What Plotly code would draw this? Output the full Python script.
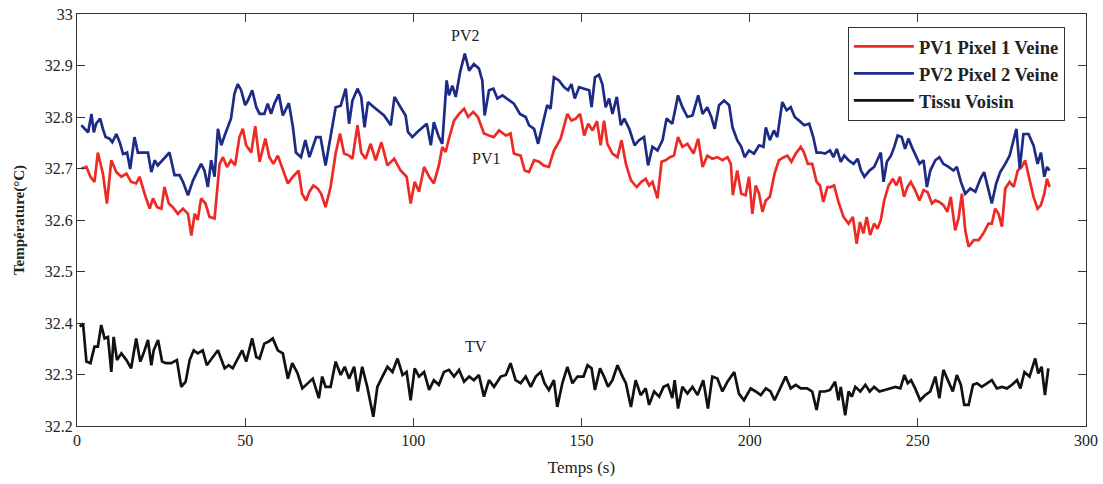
import plotly.graph_objects as go

# ---------------- data ----------------
pv2_t = [1.3, 2.3, 3.3, 4.3, 5.0, 5.7, 6.9, 7.7, 8.5, 9.7, 10.5, 11.7, 12.7, 13.7, 14.9, 15.8, 17.1, 18.1, 19.6, 21.1,
         22.1, 23.1, 24.0, 25.5, 27.5, 29.0, 30.5, 31.5, 33.0, 34.5, 35.9, 36.9, 37.9, 38.9, 39.9, 40.9, 41.9, 42.9,
         43.9, 44.9, 45.8, 46.8, 47.8, 48.8, 50.0, 50.8, 52.1, 53.3, 54.3, 55.7, 56.7, 57.7, 58.7, 60.0, 61.2, 63.0,
         64.2, 65.1, 66.6, 67.9, 69.1, 71.1, 72.4, 73.9, 75.4, 76.9, 78.4, 79.9, 80.9, 81.9, 83.4, 84.5, 85.5, 86.5,
         88.3, 90.1, 91.3, 93.3, 94.4, 96.2, 97.7, 98.4, 99.7, 101.2, 102.7, 104.0, 105.2, 106.1, 107.6, 108.6,
         109.9, 110.6, 111.6, 112.6, 113.9, 115.3, 116.6, 118.0, 119.5, 120.5, 121.2, 122.5, 123.8, 125.0, 126.5,
         127.9, 129.9, 131.7, 133.4, 134.4, 135.9, 137.1, 138.4, 139.8, 140.8, 141.8, 143.3, 144.8, 146.0, 147.0,
         148.0, 149.3, 150.8, 152.3, 153.0, 154.0, 155.2, 156.2, 157.2, 158.2, 159.2, 160.5, 161.7, 162.7, 164.2,
         165.8, 167.1, 168.6, 169.8, 171.1, 172.6, 174.1, 175.3, 177.0, 178.7, 180.0, 181.5, 183.0, 184.7, 186.0,
         187.4, 188.6, 189.6, 190.9, 192.4, 193.9, 194.9, 196.3, 197.5, 198.5, 199.8, 201.3, 202.8, 204.1, 204.8,
         206.0, 207.2, 208.2, 209.7, 211.0, 212.2, 213.4, 214.7, 216.2, 217.7, 218.9, 219.9, 221.1, 222.4, 223.9,
         224.9, 225.9, 227.1, 228.1, 229.4, 230.9, 232.1, 233.1, 234.1, 235.6, 237.0, 238.0, 239.0, 239.8, 240.8,
         242.0, 243.0, 244.0, 245.2, 246.2, 247.2, 248.2, 249.2, 250.5, 251.7, 252.7, 253.7, 255.2, 256.4, 257.6,
         259.1, 260.6, 261.6, 262.8, 264.1, 265.6, 267.1, 268.6, 269.7, 270.7, 272.0, 273.3, 274.5, 276.0, 277.3,
         278.3, 279.3, 280.3, 281.4, 282.9, 284.4, 285.6, 286.6, 287.6, 288.4, 289.2]
pv2_v = [32.784, 32.777, 32.770, 32.806, 32.770, 32.787, 32.797, 32.777, 32.761, 32.758, 32.751, 32.767, 32.751,
         32.728, 32.731, 32.699, 32.761, 32.731, 32.731, 32.731, 32.693, 32.716, 32.706, 32.716, 32.731, 32.687,
         32.687, 32.674, 32.648, 32.677, 32.696, 32.709, 32.696, 32.664, 32.716, 32.684, 32.777, 32.745, 32.764,
         32.780, 32.797, 32.845, 32.864, 32.852, 32.823, 32.832, 32.852, 32.819, 32.806, 32.806, 32.826, 32.806,
         32.826, 32.844, 32.803, 32.827, 32.780, 32.731, 32.722, 32.755, 32.722, 32.761, 32.761, 32.706, 32.761,
         32.819, 32.822, 32.855, 32.787, 32.832, 32.855, 32.839, 32.780, 32.829, 32.819, 32.810, 32.803, 32.784,
         32.839, 32.819, 32.803, 32.771, 32.761, 32.771, 32.780, 32.787, 32.745, 32.790, 32.761, 32.748, 32.871,
         32.842, 32.861, 32.839, 32.887, 32.923, 32.890, 32.903, 32.894, 32.871, 32.803, 32.852, 32.855, 32.836,
         32.842, 32.836, 32.826, 32.806, 32.800, 32.784, 32.777, 32.748, 32.784, 32.823, 32.816, 32.877, 32.871,
         32.858, 32.852, 32.864, 32.836, 32.858, 32.855, 32.852, 32.819, 32.877, 32.882, 32.864, 32.819, 32.836,
         32.806, 32.839, 32.784, 32.797, 32.777, 32.745, 32.755, 32.761, 32.706, 32.742, 32.735, 32.755, 32.797,
         32.787, 32.842, 32.819, 32.800, 32.803, 32.842, 32.806, 32.819, 32.800, 32.777, 32.823, 32.832, 32.823,
         32.780, 32.755, 32.742, 32.722, 32.735, 32.729, 32.745, 32.742, 32.780, 32.755, 32.774, 32.761, 32.829,
         32.813, 32.819, 32.800, 32.793, 32.784, 32.787, 32.761, 32.731, 32.731, 32.729, 32.735, 32.722, 32.738,
         32.713, 32.725, 32.716, 32.709, 32.719, 32.696, 32.684, 32.696, 32.703, 32.716, 32.731, 32.674, 32.713,
         32.725, 32.742, 32.764, 32.761, 32.738, 32.758, 32.742, 32.729, 32.709, 32.716, 32.664, 32.696, 32.716,
         32.722, 32.709, 32.703, 32.696, 32.703, 32.674, 32.651, 32.661, 32.655, 32.680, 32.693, 32.667, 32.632,
         32.671, 32.693, 32.709, 32.725, 32.751, 32.777, 32.700, 32.767, 32.767, 32.745, 32.709, 32.731, 32.684,
         32.703, 32.696]

pv1_t = [1.3, 2.8, 4.0, 5.2, 6.2, 7.7, 8.9, 10.2, 11.7, 13.2, 14.7, 16.1, 17.6, 18.6, 20.1, 21.6, 22.6, 23.8, 25.1,
         26.0, 27.3, 28.5, 30.0, 31.5, 33.0, 34.0, 35.0, 35.9, 36.9, 38.2, 39.4, 40.9, 42.4, 43.4, 44.6, 45.8, 47.0,
         48.3, 49.3, 50.3, 51.8, 53.0, 54.3, 56.0, 57.2, 58.4, 59.7, 61.2, 62.7, 64.2, 65.9, 66.9, 68.1, 69.1, 70.3,
         71.6, 72.6, 73.9, 75.4, 76.9, 78.2, 79.4, 80.9, 81.9, 83.4, 84.5, 85.8, 87.3, 88.8, 90.5, 92.3, 94.3, 96.2,
         98.0, 99.2, 100.4, 101.7, 103.2, 104.7, 106.1, 107.6, 108.6, 109.6, 110.6, 112.1, 113.6, 115.1, 116.3,
         117.8, 119.2, 121.0, 122.5, 123.9, 125.5, 127.5, 128.9, 129.9, 131.9, 133.1, 134.4, 135.9, 137.4, 138.7,
         140.3, 141.8, 143.8, 145.8, 147.0, 148.3, 149.6, 150.8, 152.0, 153.3, 154.6, 155.7, 156.7, 157.7, 159.2,
         160.7, 161.9, 163.2, 164.7, 166.4, 167.8, 169.1, 170.1, 171.1, 172.6, 173.8, 175.0, 176.3, 177.5, 178.7,
         180.0, 181.5, 183.3, 184.7, 186.0, 187.4, 188.9, 190.4, 191.9, 193.4, 194.4, 195.0, 196.3, 197.5, 198.8,
         199.8, 200.8, 201.8, 202.8, 203.8, 204.8, 206.0, 207.4, 208.7, 210.2, 211.2, 212.4, 213.7, 215.2, 216.1,
         217.3, 218.6, 219.9, 220.9, 221.9, 223.1, 224.1, 225.1, 226.4, 227.9, 229.4, 230.7, 231.8, 232.8, 233.8,
         234.8, 235.8, 237.0, 238.0, 239.0, 240.0, 241.3, 242.6, 243.6, 244.7, 245.9, 246.9, 247.9, 249.2, 250.5,
         251.7, 252.9, 254.2, 255.2, 256.4, 257.6, 258.8, 259.8, 261.1, 262.1, 263.1, 264.1, 265.1, 266.6, 268.1,
         269.5, 271.0, 272.0, 273.0, 274.0, 275.0, 276.0, 277.3, 278.5, 279.7, 280.9, 281.9, 283.2, 284.4, 285.6,
         286.6, 287.6, 288.4, 289.2]
pv1_v = [32.700, 32.703, 32.684, 32.674, 32.731, 32.690, 32.632, 32.716, 32.693, 32.684, 32.690, 32.674, 32.671,
         32.684, 32.651, 32.622, 32.642, 32.625, 32.622, 32.664, 32.632, 32.625, 32.612, 32.622, 32.612, 32.570,
         32.612, 32.600, 32.642, 32.632, 32.606, 32.603, 32.709, 32.722, 32.703, 32.716, 32.706, 32.761, 32.777,
         32.745, 32.731, 32.782, 32.713, 32.758, 32.722, 32.709, 32.725, 32.696, 32.671, 32.684, 32.696, 32.651,
         32.638, 32.655, 32.667, 32.661, 32.651, 32.625, 32.664, 32.729, 32.768, 32.729, 32.725, 32.719, 32.784,
         32.731, 32.719, 32.748, 32.716, 32.751, 32.706, 32.719, 32.696, 32.684, 32.632, 32.674, 32.655, 32.703,
         32.684, 32.671, 32.706, 32.742, 32.732, 32.758, 32.793, 32.806, 32.816, 32.800, 32.810, 32.800, 32.768,
         32.764, 32.761, 32.774, 32.764, 32.768, 32.729, 32.725, 32.696, 32.693, 32.716, 32.713, 32.706, 32.703,
         32.735, 32.758, 32.806, 32.793, 32.797, 32.806, 32.764, 32.787, 32.774, 32.792, 32.745, 32.793, 32.748,
         32.729, 32.722, 32.755, 32.709, 32.677, 32.664, 32.674, 32.680, 32.667, 32.674, 32.642, 32.713, 32.716,
         32.722, 32.725, 32.761, 32.742, 32.748, 32.729, 32.758, 32.703, 32.725, 32.719, 32.722, 32.716, 32.722,
         32.709, 32.648, 32.696, 32.651, 32.648, 32.684, 32.612, 32.667, 32.651, 32.616, 32.638, 32.645, 32.690,
         32.716, 32.722, 32.725, 32.713, 32.729, 32.742, 32.732, 32.709, 32.709, 32.674, 32.667, 32.635, 32.664,
         32.664, 32.667, 32.635, 32.606, 32.593, 32.606, 32.554, 32.596, 32.574, 32.606, 32.571, 32.593, 32.583,
         32.600, 32.638, 32.667, 32.680, 32.667, 32.684, 32.645, 32.664, 32.674, 32.658, 32.638, 32.658, 32.654,
         32.632, 32.638, 32.635, 32.629, 32.616, 32.645, 32.580, 32.603, 32.651, 32.580, 32.548, 32.561, 32.561,
         32.574, 32.593, 32.593, 32.622, 32.612, 32.587, 32.661, 32.674, 32.664, 32.696, 32.703, 32.716, 32.677,
         32.645, 32.622, 32.629, 32.651, 32.680, 32.664]

tv_t = [0.8, 1.8, 2.8, 4.0, 5.2, 6.2, 7.2, 8.2, 9.2, 10.2, 10.9, 11.9, 13.2, 14.7, 16.1, 17.6, 18.8, 19.8, 21.1,
        22.1, 22.8, 24.1, 25.3, 26.5, 28.0, 29.7, 31.0, 32.3, 33.5, 34.7, 35.9, 37.4, 38.6, 40.2, 41.9, 43.9, 45.1,
        46.3, 47.8, 49.1, 50.3, 52.1, 53.3, 54.3, 55.7, 57.0, 58.2, 59.7, 61.2, 62.7, 64.0, 65.6, 67.0, 68.6, 70.1,
        71.9, 72.9, 73.9, 75.4, 76.9, 78.4, 79.6, 80.9, 82.4, 83.5, 84.8, 86.3, 88.1, 89.3, 90.8, 92.3, 93.8, 95.3,
        96.8, 98.0, 99.2, 100.4, 101.7, 103.2, 104.7, 106.1, 107.6, 109.1, 110.6, 112.1, 113.6, 115.1, 116.6,
        118.0, 119.5, 121.0, 122.5, 124.0, 126.0, 127.5, 128.9, 130.4, 131.9, 133.4, 134.9, 136.4, 137.9, 139.0,
        140.3, 141.8, 142.8, 144.3, 145.8, 147.3, 148.8, 150.6, 151.8, 153.0, 154.0, 155.5, 156.7, 157.9, 159.2,
        160.7, 162.2, 163.2, 164.7, 166.1, 167.6, 169.1, 170.1, 171.6, 173.1, 174.4, 175.7, 177.0, 177.7, 178.7,
        180.0, 181.5, 183.0, 184.5, 186.2, 187.6, 188.9, 190.4, 191.9, 193.4, 195.4, 196.8, 198.3, 200.3, 201.8,
        203.3, 204.8, 206.2, 207.4, 209.2, 210.7, 212.2, 213.7, 215.2, 217.1, 218.6, 219.9, 220.9, 222.4, 223.9,
        225.4, 226.4, 227.1, 228.4, 229.4, 230.4, 231.4, 232.9, 234.4, 235.7, 237.0, 238.6, 240.3, 241.8, 243.3,
        244.8, 246.0, 247.0, 248.0, 249.2, 250.7, 252.2, 253.7, 255.2, 256.4, 257.6, 259.1, 260.4, 261.6, 262.8,
        263.8, 265.1, 266.4, 267.6, 269.0, 270.5, 272.0, 273.5, 275.0, 276.5, 278.0, 279.5, 280.5, 281.7, 283.2,
        284.9, 285.8, 286.8, 287.8, 288.8]
tv_v = [32.393, 32.399, 32.325, 32.322, 32.354, 32.354, 32.396, 32.370, 32.373, 32.305, 32.373, 32.328, 32.341,
        32.328, 32.312, 32.370, 32.325, 32.341, 32.367, 32.318, 32.347, 32.367, 32.325, 32.322, 32.322, 32.328,
        32.276, 32.286, 32.328, 32.347, 32.341, 32.347, 32.318, 32.331, 32.347, 32.312, 32.318, 32.312, 32.331,
        32.347, 32.325, 32.370, 32.334, 32.331, 32.360, 32.364, 32.370, 32.347, 32.341, 32.292, 32.322, 32.302,
        32.273, 32.283, 32.292, 32.254, 32.296, 32.276, 32.276, 32.325, 32.299, 32.315, 32.292, 32.315, 32.267,
        32.315, 32.276, 32.218, 32.276, 32.296, 32.315, 32.305, 32.331, 32.299, 32.305, 32.250, 32.312, 32.296,
        32.305, 32.270, 32.289, 32.280, 32.305, 32.309, 32.296, 32.309, 32.286, 32.296, 32.289, 32.299, 32.257,
        32.289, 32.276, 32.296, 32.299, 32.322, 32.289, 32.283, 32.296, 32.276, 32.296, 32.305, 32.283, 32.270,
        32.289, 32.237, 32.283, 32.315, 32.283, 32.296, 32.296, 32.318, 32.312, 32.270, 32.312, 32.296, 32.276,
        32.289, 32.318, 32.296, 32.283, 32.237, 32.289, 32.260, 32.273, 32.241, 32.267, 32.257, 32.276, 32.280,
        32.254, 32.289, 32.234, 32.276, 32.263, 32.276, 32.260, 32.289, 32.234, 32.296, 32.292, 32.267, 32.286,
        32.305, 32.263, 32.250, 32.273, 32.267, 32.260, 32.273, 32.267, 32.250, 32.276, 32.296, 32.273, 32.280,
        32.273, 32.273, 32.267, 32.231, 32.267, 32.267, 32.270, 32.286, 32.250, 32.276, 32.221, 32.267, 32.257,
        32.276, 32.267, 32.280, 32.267, 32.276, 32.267, 32.270, 32.273, 32.276, 32.273, 32.299, 32.283, 32.289,
        32.273, 32.250, 32.260, 32.267, 32.296, 32.254, 32.309, 32.286, 32.267, 32.299, 32.280, 32.241, 32.241,
        32.280, 32.283, 32.276, 32.283, 32.289, 32.273, 32.276, 32.273, 32.280, 32.289, 32.273, 32.305, 32.296,
        32.331, 32.302, 32.315, 32.260, 32.312]

x_ticks = [0, 50, 100, 150, 200, 250, 300]
y_ticks = [32.2, 32.3, 32.4, 32.5, 32.6, 32.7, 32.8, 32.9, 33.0]
y_tick_labels = ["32.2", "32.3", "32.4", "32.5", "32.6", "32.7", "32.8", "32.9", "33"]

labels = [("PV2", 115.4, 32.958), ("PV1", 121.5, 32.72), ("TV", 118.5, 32.355)]

# ---------------- figure ----------------
FONT = "Liberation Serif"
TXT = "#222222"
fig = go.Figure()
fig.add_trace(go.Scatter(x=pv1_t, y=pv1_v, mode="lines", name="<b>PV1 Pixel 1 Veine</b>",
                         line=dict(color="#ee2a24", width=2.7)))
fig.add_trace(go.Scatter(x=pv2_t, y=pv2_v, mode="lines", name="<b>PV2 Pixel 2 Veine</b>",
                         line=dict(color="#1c2b85", width=2.7)))
fig.add_trace(go.Scatter(x=tv_t, y=tv_v, mode="lines", name="<b>Tissu Voisin</b>",
                         line=dict(color="#111111", width=2.7)))

for txt, lx, ly in labels:
    fig.add_annotation(x=lx, y=ly, text=txt, showarrow=False,
                       font=dict(family=FONT, size=16, color=TXT))

axis_common = dict(showline=True, linecolor="#333", linewidth=1.2, mirror="ticks",
                   ticks="inside", ticklen=8, tickcolor="#333", showgrid=False, zeroline=False,
                   automargin=False, ticklabeloverflow="allow")

fig.update_layout(
    width=1103, height=484,
    margin=dict(l=77, r=17, t=14, b=58),
    paper_bgcolor="white", plot_bgcolor="white",
    showlegend=True,
    legend=dict(x=0.764, y=0.969, xanchor="left", yanchor="top",
                bgcolor="white", bordercolor="#333", borderwidth=1,
                font=dict(family=FONT, size=18.5, color=TXT),
                tracegroupgap=0, itemwidth=60),
    xaxis=dict(range=[0, 300], tickvals=x_ticks,
               tickfont=dict(family=FONT, size=16, color=TXT),
               title=dict(text="Temps (s)", font=dict(family=FONT, size=17, color=TXT), standoff=12),
               **axis_common),
    yaxis=dict(range=[32.2, 33.0], tickvals=y_ticks, ticktext=y_tick_labels,
               tickfont=dict(family=FONT, size=16, color=TXT),
               title=dict(text="<b>Température(°C)</b>", font=dict(family=FONT, size=15, color=TXT), standoff=16),
               **axis_common),
)

# remove the browser's default 8 px body margin so the figure fills the window exactly; hide the modebar
fig.write_html("out.html", config={"displayModeBar": False},
               post_script="document.body.style.margin='0';")
